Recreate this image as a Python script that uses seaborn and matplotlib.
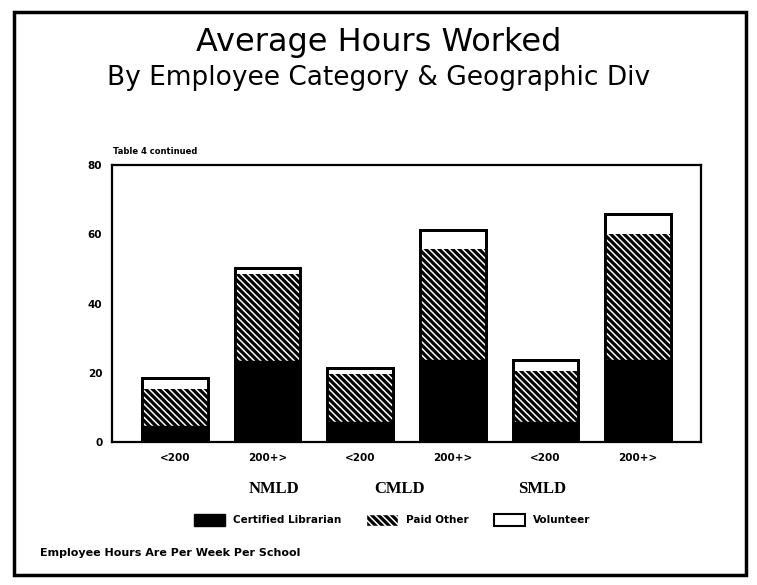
import numpy as np
import pandas as pd
import matplotlib
matplotlib.use("Agg")
import matplotlib.pyplot as plt
import seaborn as sns
from matplotlib.patches import Patch, Rectangle
from matplotlib.transforms import blended_transform_factory

# data
bars = ["NMLD <200", "NMLD 200+", "CMLD <200", "CMLD 200+", "SMLD <200", "SMLD 200+"]
tick_labels = ["<200", "200+>", "<200", "200+>", "<200", "200+>"]
divisions = ["NMLD", "CMLD", "SMLD"]
certified = [4.6, 23.5, 5.7, 23.7, 5.7, 23.7]
paid_other = [10.6, 25.0, 13.8, 31.9, 14.9, 36.5]
volunteer = [3.2, 1.8, 2.0, 5.7, 3.2, 5.7]

df = pd.DataFrame({"bar": bars, "certified": certified,
                   "paid": paid_other, "volunteer": volunteer})
df["paid_top"] = df["certified"] + df["paid"]
df["total"] = df["paid_top"] + df["volunteer"]

sns.set_style("white")
plt.rcParams["hatch.linewidth"] = 1.1
plt.rcParams["hatch.color"] = "white"
plt.rcParams["text.color"] = "black"
plt.rcParams["xtick.color"] = "black"
plt.rcParams["ytick.color"] = "black"

hatch = "\\\\\\\\\\"

fig = plt.figure(figsize=(7.57, 5.85), dpi=100)
ax = fig.add_axes([112 / 757, 1 - 442 / 585, 589 / 757, 277 / 585])

w = 0.71
# tallest layer first, then the lower layers on top of it
sns.barplot(data=df, x="bar", y="total", color="white", edgecolor="black",
            linewidth=2, width=w, saturation=1, ax=ax)
sns.barplot(data=df, x="bar", y="paid_top", color="black", edgecolor="white",
            linewidth=0, hatch=hatch, width=w, saturation=1, ax=ax)
sns.barplot(data=df, x="bar", y="certified", color="black", edgecolor="black",
            linewidth=1, width=w, saturation=1, ax=ax)
sns.barplot(data=df, x="bar", y="total", fill=False, edgecolor="black",
            linewidth=2, width=w, ax=ax)

ax.set_xlim(-0.68, 5.68)
ax.set_ylim(0, 80)
ax.set_yticks([0, 20, 40, 60, 80])
ax.set_xticks(range(len(bars)))
ax.set_xticklabels(tick_labels, fontsize=7.5, fontweight="bold")
ax.tick_params(axis="y", direction="in", length=4, width=1.2, labelsize=7.5,
               pad=7)
ax.tick_params(axis="x", length=0, pad=8)
for lab in ax.get_yticklabels():
    lab.set_fontweight("bold")
ax.set_xlabel("")
ax.set_ylabel("")
for s in ax.spines.values():
    s.set_visible(True)
    s.set_color("black")
    s.set_linewidth(1.6)

# division labels under the ticks
div_tr = blended_transform_factory(ax.transData, fig.transFigure)
for xpos, name in zip([1.07, 2.43, 3.96], divisions):
    ax.text(xpos, 1 - 489 / 585, name, transform=div_tr,
            ha="center", va="center", fontsize=12, fontweight="bold",
            family="Liberation Serif")

ax.text(0.002, 1 - 152 / 585, "Table 4 continued",
        transform=blended_transform_factory(ax.transAxes, fig.transFigure),
        fontsize=6, fontweight="bold", va="center")

fig.text(0.5, 1 - 43 / 585, "Average Hours Worked", ha="center", va="center",
         fontsize=23, family="DejaVu Sans")
fig.text(0.5, 1 - 78 / 585, "By Employee Category & Geographic Div",
         ha="center", va="center", fontsize=19, family="DejaVu Sans")

handles = [Patch(facecolor="black", edgecolor="black", label="Certified Librarian"),
           Patch(facecolor="black", edgecolor="white", hatch=hatch, label="Paid Other"),
           Patch(facecolor="white", edgecolor="black", linewidth=1.5, label="Volunteer")]
fig.legend(handles=handles, loc="center", ncol=3,
           bbox_to_anchor=(392 / 757, 1 - 520 / 585), frameon=False,
           handlelength=3.0, handleheight=1.5, columnspacing=2.4,
           prop={"size": 7.5, "weight": "bold"})

fig.text(40 / 757, 1 - 553 / 585, "Employee Hours Are Per Week Per School",
         fontsize=8, fontweight="bold", va="center")

# frame around the whole chart
fig.add_artist(Rectangle((14 / 757, 10 / 585), 732 / 757, 563 / 585,
                         transform=fig.transFigure, fill=False,
                         edgecolor="black", linewidth=2.5))

fig.savefig("out.png", dpi=100)
